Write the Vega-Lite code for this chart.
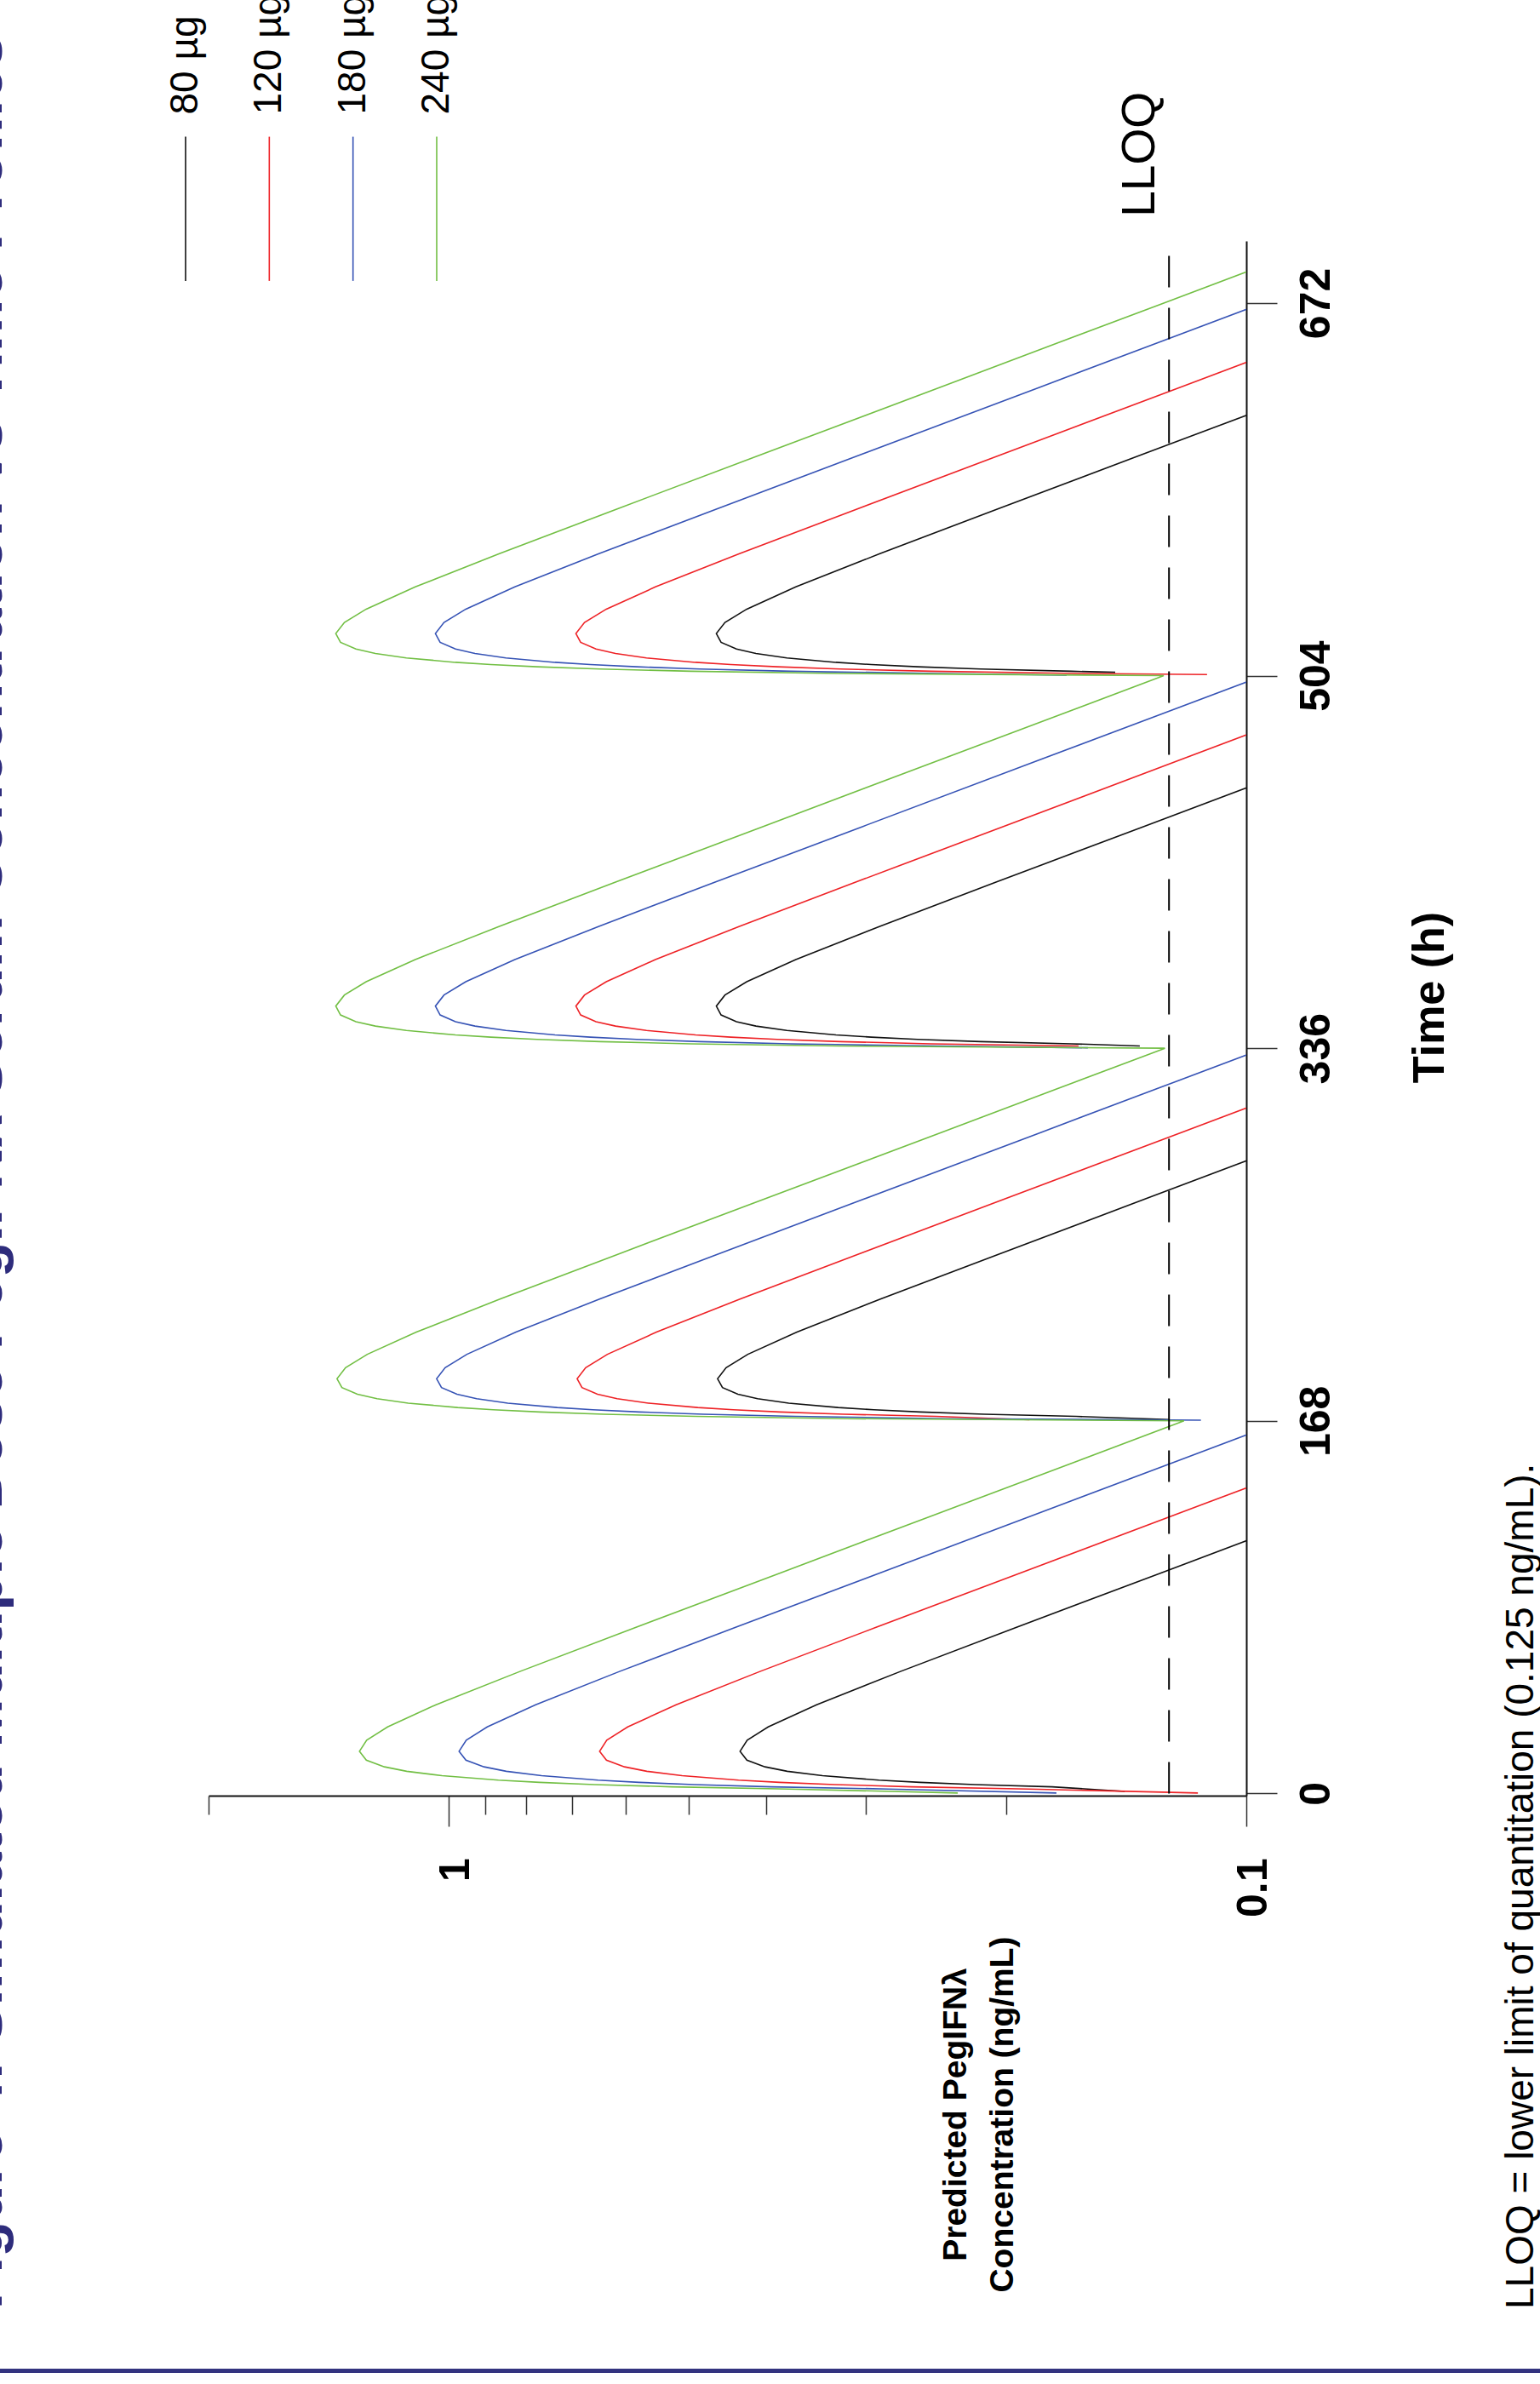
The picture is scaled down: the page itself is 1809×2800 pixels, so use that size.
{
"$schema": "https://vega.github.io/schema/vega-lite/v6.json",
"width": 1219,
"height": 1826,
"autosize": {"type": "none"},
"padding": {"left": 245, "top": 283, "right": 345, "bottom": 691},
"background": "white",
"config": {"view": {"stroke": null}, "font": "Liberation Sans, Arial, sans-serif", "axis": {"grid": false}},
"datasets": {
"legend": [{"d": "80 µg"}, {"d": "120 µg"}, {"d": "180 µg"}, {"d": "240 µg"}],
"curves": [
{"d":"80 µg","s":"k1","t":0.9,"c":0.142},{"d":"80 µg","s":"k1","t":3,"c":0.1752},{"d":"80 µg","s":"k1","t":4,"c":0.2188},{"d":"80 µg","s":"k1","t":5,"c":0.2565},{"d":"80 µg","s":"k1","t":6,"c":0.2888},{"d":"80 µg","s":"k1","t":8,"c":0.3399},{"d":"80 µg","s":"k1","t":10,"c":0.3763},{"d":"80 µg","s":"k1","t":12,"c":0.4013},{"d":"80 µg","s":"k1","t":15,"c":0.4228},{"d":"80 µg","s":"k1","t":19,"c":0.4312},{"d":"80 µg","s":"k1","t":24,"c":0.4224},{"d":"80 µg","s":"k1","t":30,"c":0.3976},{"d":"80 µg","s":"k1","t":40,"c":0.3457},{"d":"80 µg","s":"k1","t":55,"c":0.2714},{"d":"80 µg","s":"k1","t":75,"c":0.1938},{"d":"80 µg","s":"k1","t":100,"c":0.1267},{"d":"80 µg","s":"k1","t":130,"c":0.0761},
{"d":"80 µg","s":"k2","t":168.6,"c":0.125},{"d":"80 µg","s":"k2","t":170,"c":0.1634},{"d":"80 µg","s":"k2","t":171,"c":0.2131},{"d":"80 µg","s":"k2","t":172,"c":0.2561},{"d":"80 µg","s":"k2","t":173,"c":0.2931},{"d":"80 µg","s":"k2","t":174,"c":0.3248},{"d":"80 µg","s":"k2","t":176,"c":0.3747},{"d":"80 µg","s":"k2","t":178,"c":0.41},{"d":"80 µg","s":"k2","t":180,"c":0.4339},{"d":"80 µg","s":"k2","t":183,"c":0.4537},{"d":"80 µg","s":"k2","t":187,"c":0.4601},{"d":"80 µg","s":"k2","t":192,"c":0.4489},{"d":"80 µg","s":"k2","t":198,"c":0.4216},{"d":"80 µg","s":"k2","t":208,"c":0.3659},{"d":"80 µg","s":"k2","t":223,"c":0.2871},{"d":"80 µg","s":"k2","t":243,"c":0.2049},{"d":"80 µg","s":"k2","t":268,"c":0.134},{"d":"80 µg","s":"k2","t":298,"c":0.0805},
{"d":"80 µg","s":"k3","t":337,"c":0.136},{"d":"80 µg","s":"k3","t":338,"c":0.1656},{"d":"80 µg","s":"k3","t":339,"c":0.2153},{"d":"80 µg","s":"k3","t":340,"c":0.2582},{"d":"80 µg","s":"k3","t":341,"c":0.2952},{"d":"80 µg","s":"k3","t":342,"c":0.3269},{"d":"80 µg","s":"k3","t":344,"c":0.3767},{"d":"80 µg","s":"k3","t":346,"c":0.4119},{"d":"80 µg","s":"k3","t":348,"c":0.4357},{"d":"80 µg","s":"k3","t":351,"c":0.4555},{"d":"80 µg","s":"k3","t":355,"c":0.4618},{"d":"80 µg","s":"k3","t":360,"c":0.4504},{"d":"80 µg","s":"k3","t":366,"c":0.4229},{"d":"80 µg","s":"k3","t":376,"c":0.3671},{"d":"80 µg","s":"k3","t":391,"c":0.288},{"d":"80 µg","s":"k3","t":411,"c":0.2056},{"d":"80 µg","s":"k3","t":436,"c":0.1344},{"d":"80 µg","s":"k3","t":466,"c":0.0807},
{"d":"80 µg","s":"k4","t":505.5,"c":0.146},{"d":"80 µg","s":"k4","t":506,"c":0.1656},{"d":"80 µg","s":"k4","t":507,"c":0.2153},{"d":"80 µg","s":"k4","t":508,"c":0.2582},{"d":"80 µg","s":"k4","t":509,"c":0.2952},{"d":"80 µg","s":"k4","t":510,"c":0.3269},{"d":"80 µg","s":"k4","t":512,"c":0.3767},{"d":"80 µg","s":"k4","t":514,"c":0.4119},{"d":"80 µg","s":"k4","t":516,"c":0.4357},{"d":"80 µg","s":"k4","t":519,"c":0.4555},{"d":"80 µg","s":"k4","t":523,"c":0.4618},{"d":"80 µg","s":"k4","t":528,"c":0.4504},{"d":"80 µg","s":"k4","t":534,"c":0.4229},{"d":"80 µg","s":"k4","t":544,"c":0.3671},{"d":"80 µg","s":"k4","t":559,"c":0.288},{"d":"80 µg","s":"k4","t":579,"c":0.2056},{"d":"80 µg","s":"k4","t":604,"c":0.1344},{"d":"80 µg","s":"k4","t":634,"c":0.0807},
{"d":"120 µg","s":"r1","t":0.2,"c":0.115},{"d":"120 µg","s":"r1","t":2,"c":0.1872},{"d":"120 µg","s":"r1","t":3,"c":0.2628},{"d":"120 µg","s":"r1","t":4,"c":0.3282},{"d":"120 µg","s":"r1","t":5,"c":0.3847},{"d":"120 µg","s":"r1","t":6,"c":0.4331},{"d":"120 µg","s":"r1","t":8,"c":0.5098},{"d":"120 µg","s":"r1","t":10,"c":0.5644},{"d":"120 µg","s":"r1","t":12,"c":0.602},{"d":"120 µg","s":"r1","t":15,"c":0.6342},{"d":"120 µg","s":"r1","t":19,"c":0.6468},{"d":"120 µg","s":"r1","t":24,"c":0.6336},{"d":"120 µg","s":"r1","t":30,"c":0.5964},{"d":"120 µg","s":"r1","t":40,"c":0.5186},{"d":"120 µg","s":"r1","t":55,"c":0.4071},{"d":"120 µg","s":"r1","t":75,"c":0.2907},{"d":"120 µg","s":"r1","t":100,"c":0.1901},{"d":"120 µg","s":"r1","t":130,"c":0.1141},{"d":"120 µg","s":"r1","t":150,"c":0.0812},
{"d":"120 µg","s":"r2","t":168.5,"c":0.187},{"d":"120 µg","s":"r2","t":170,"c":0.245},{"d":"120 µg","s":"r2","t":171,"c":0.3197},{"d":"120 µg","s":"r2","t":172,"c":0.3841},{"d":"120 µg","s":"r2","t":173,"c":0.4396},{"d":"120 µg","s":"r2","t":174,"c":0.4872},{"d":"120 µg","s":"r2","t":176,"c":0.562},{"d":"120 µg","s":"r2","t":178,"c":0.6149},{"d":"120 µg","s":"r2","t":180,"c":0.6508},{"d":"120 µg","s":"r2","t":183,"c":0.6806},{"d":"120 µg","s":"r2","t":187,"c":0.6901},{"d":"120 µg","s":"r2","t":192,"c":0.6733},{"d":"120 µg","s":"r2","t":198,"c":0.6323},{"d":"120 µg","s":"r2","t":208,"c":0.5489},{"d":"120 µg","s":"r2","t":223,"c":0.4306},{"d":"120 µg","s":"r2","t":243,"c":0.3074},{"d":"120 µg","s":"r2","t":268,"c":0.201},{"d":"120 µg","s":"r2","t":298,"c":0.1207},{"d":"120 µg","s":"r2","t":318,"c":0.0859},
{"d":"120 µg","s":"r3","t":337,"c":0.1623},{"d":"120 µg","s":"r3","t":338,"c":0.2484},{"d":"120 µg","s":"r3","t":339,"c":0.3229},{"d":"120 µg","s":"r3","t":340,"c":0.3873},{"d":"120 µg","s":"r3","t":341,"c":0.4428},{"d":"120 µg","s":"r3","t":342,"c":0.4903},{"d":"120 µg","s":"r3","t":344,"c":0.565},{"d":"120 µg","s":"r3","t":346,"c":0.6178},{"d":"120 µg","s":"r3","t":348,"c":0.6536},{"d":"120 µg","s":"r3","t":351,"c":0.6832},{"d":"120 µg","s":"r3","t":355,"c":0.6926},{"d":"120 µg","s":"r3","t":360,"c":0.6756},{"d":"120 µg","s":"r3","t":366,"c":0.6344},{"d":"120 µg","s":"r3","t":376,"c":0.5506},{"d":"120 µg","s":"r3","t":391,"c":0.4319},{"d":"120 µg","s":"r3","t":411,"c":0.3083},{"d":"120 µg","s":"r3","t":436,"c":0.2016},{"d":"120 µg","s":"r3","t":466,"c":0.1211},{"d":"120 µg","s":"r3","t":486,"c":0.0862},
{"d":"120 µg","s":"r4","t":504.5,"c":0.112},{"d":"120 µg","s":"r4","t":505,"c":0.1623},{"d":"120 µg","s":"r4","t":506,"c":0.2484},{"d":"120 µg","s":"r4","t":507,"c":0.3229},{"d":"120 µg","s":"r4","t":508,"c":0.3873},{"d":"120 µg","s":"r4","t":509,"c":0.4428},{"d":"120 µg","s":"r4","t":510,"c":0.4903},{"d":"120 µg","s":"r4","t":512,"c":0.565},{"d":"120 µg","s":"r4","t":514,"c":0.6178},{"d":"120 µg","s":"r4","t":516,"c":0.6536},{"d":"120 µg","s":"r4","t":519,"c":0.6832},{"d":"120 µg","s":"r4","t":523,"c":0.6926},{"d":"120 µg","s":"r4","t":528,"c":0.6756},{"d":"120 µg","s":"r4","t":534,"c":0.6344},{"d":"120 µg","s":"r4","t":544,"c":0.5506},{"d":"120 µg","s":"r4","t":559,"c":0.4319},{"d":"120 µg","s":"r4","t":579,"c":0.3083},{"d":"120 µg","s":"r4","t":604,"c":0.2016},{"d":"120 µg","s":"r4","t":634,"c":0.1211},{"d":"120 µg","s":"r4","t":654,"c":0.0862},
{"d":"180 µg","s":"b1","t":0.2,"c":0.173},{"d":"180 µg","s":"b1","t":2,"c":0.2809},{"d":"180 µg","s":"b1","t":3,"c":0.3943},{"d":"180 µg","s":"b1","t":4,"c":0.4924},{"d":"180 µg","s":"b1","t":5,"c":0.5771},{"d":"180 µg","s":"b1","t":6,"c":0.6498},{"d":"180 µg","s":"b1","t":8,"c":0.7648},{"d":"180 µg","s":"b1","t":10,"c":0.8468},{"d":"180 µg","s":"b1","t":12,"c":0.9031},{"d":"180 µg","s":"b1","t":15,"c":0.9515},{"d":"180 µg","s":"b1","t":19,"c":0.9704},{"d":"180 µg","s":"b1","t":24,"c":0.9505},{"d":"180 µg","s":"b1","t":30,"c":0.8947},{"d":"180 µg","s":"b1","t":40,"c":0.778},{"d":"180 µg","s":"b1","t":55,"c":0.6107},{"d":"180 µg","s":"b1","t":75,"c":0.4361},{"d":"180 µg","s":"b1","t":100,"c":0.2852},{"d":"180 µg","s":"b1","t":130,"c":0.1712},{"d":"180 µg","s":"b1","t":150,"c":0.1219},{"d":"180 µg","s":"b1","t":168,"c":0.0898},
{"d":"180 µg","s":"b2","t":168.3,"c":0.114},{"d":"180 µg","s":"b2","t":169,"c":0.2384},{"d":"180 µg","s":"b2","t":170,"c":0.3676},{"d":"180 µg","s":"b2","t":171,"c":0.4796},{"d":"180 µg","s":"b2","t":172,"c":0.5763},{"d":"180 µg","s":"b2","t":173,"c":0.6596},{"d":"180 µg","s":"b2","t":174,"c":0.7309},{"d":"180 µg","s":"b2","t":176,"c":0.8432},{"d":"180 µg","s":"b2","t":178,"c":0.9225},{"d":"180 µg","s":"b2","t":180,"c":0.9763},{"d":"180 µg","s":"b2","t":183,"c":1.021},{"d":"180 µg","s":"b2","t":187,"c":1.0354},{"d":"180 µg","s":"b2","t":192,"c":1.0102},{"d":"180 µg","s":"b2","t":198,"c":0.9486},{"d":"180 µg","s":"b2","t":208,"c":0.8235},{"d":"180 µg","s":"b2","t":223,"c":0.6459},{"d":"180 µg","s":"b2","t":243,"c":0.4612},{"d":"180 µg","s":"b2","t":268,"c":0.3016},{"d":"180 µg","s":"b2","t":298,"c":0.1811},{"d":"180 µg","s":"b2","t":318,"c":0.1289},{"d":"180 µg","s":"b2","t":336,"c":0.0949},
{"d":"180 µg","s":"b3","t":336.2,"c":0.158},{"d":"180 µg","s":"b3","t":337,"c":0.2435},{"d":"180 µg","s":"b3","t":338,"c":0.3726},{"d":"180 µg","s":"b3","t":339,"c":0.4845},{"d":"180 µg","s":"b3","t":340,"c":0.5811},{"d":"180 µg","s":"b3","t":341,"c":0.6643},{"d":"180 µg","s":"b3","t":342,"c":0.7355},{"d":"180 µg","s":"b3","t":344,"c":0.8477},{"d":"180 µg","s":"b3","t":346,"c":0.9269},{"d":"180 µg","s":"b3","t":348,"c":0.9805},{"d":"180 µg","s":"b3","t":351,"c":1.025},{"d":"180 µg","s":"b3","t":355,"c":1.0391},{"d":"180 µg","s":"b3","t":360,"c":1.0136},{"d":"180 µg","s":"b3","t":366,"c":0.9517},{"d":"180 µg","s":"b3","t":376,"c":0.8261},{"d":"180 µg","s":"b3","t":391,"c":0.648},{"d":"180 µg","s":"b3","t":411,"c":0.4626},{"d":"180 µg","s":"b3","t":436,"c":0.3025},{"d":"180 µg","s":"b3","t":466,"c":0.1817},{"d":"180 µg","s":"b3","t":486,"c":0.1293},{"d":"180 µg","s":"b3","t":504,"c":0.0952},
{"d":"180 µg","s":"b4","t":504.2,"c":0.168},{"d":"180 µg","s":"b4","t":505,"c":0.2435},{"d":"180 µg","s":"b4","t":506,"c":0.3726},{"d":"180 µg","s":"b4","t":507,"c":0.4845},{"d":"180 µg","s":"b4","t":508,"c":0.5811},{"d":"180 µg","s":"b4","t":509,"c":0.6643},{"d":"180 µg","s":"b4","t":510,"c":0.7355},{"d":"180 µg","s":"b4","t":512,"c":0.8477},{"d":"180 µg","s":"b4","t":514,"c":0.9269},{"d":"180 µg","s":"b4","t":516,"c":0.9805},{"d":"180 µg","s":"b4","t":519,"c":1.025},{"d":"180 µg","s":"b4","t":523,"c":1.0391},{"d":"180 µg","s":"b4","t":528,"c":1.0136},{"d":"180 µg","s":"b4","t":534,"c":0.9517},{"d":"180 µg","s":"b4","t":544,"c":0.8261},{"d":"180 µg","s":"b4","t":559,"c":0.648},{"d":"180 µg","s":"b4","t":579,"c":0.4626},{"d":"180 µg","s":"b4","t":604,"c":0.3025},{"d":"180 µg","s":"b4","t":634,"c":0.1817},{"d":"180 µg","s":"b4","t":654,"c":0.1293},{"d":"180 µg","s":"b4","t":672,"c":0.0952},
{"d":"240 µg","s":"g","t":0.2,"c":0.23},{"d":"240 µg","s":"g","t":2,"c":0.3744},{"d":"240 µg","s":"g","t":3,"c":0.5256},{"d":"240 µg","s":"g","t":4,"c":0.6565},{"d":"240 µg","s":"g","t":5,"c":0.7693},{"d":"240 µg","s":"g","t":6,"c":0.8663},{"d":"240 µg","s":"g","t":8,"c":1.0196},{"d":"240 µg","s":"g","t":10,"c":1.1289},{"d":"240 µg","s":"g","t":12,"c":1.2039},{"d":"240 µg","s":"g","t":15,"c":1.2684},{"d":"240 µg","s":"g","t":19,"c":1.2937},{"d":"240 µg","s":"g","t":24,"c":1.2671},{"d":"240 µg","s":"g","t":30,"c":1.1928},{"d":"240 µg","s":"g","t":40,"c":1.0372},{"d":"240 µg","s":"g","t":55,"c":0.8141},{"d":"240 µg","s":"g","t":75,"c":0.5813},{"d":"240 µg","s":"g","t":100,"c":0.3802},{"d":"240 µg","s":"g","t":130,"c":0.2283},{"d":"240 µg","s":"g","t":150,"c":0.1625},{"d":"240 µg","s":"g","t":168,"c":0.1197},
{"d":"240 µg","s":"g","t":169,"c":0.3179},{"d":"240 µg","s":"g","t":170,"c":0.4901},{"d":"240 µg","s":"g","t":171,"c":0.6393},{"d":"240 µg","s":"g","t":172,"c":0.7682},{"d":"240 µg","s":"g","t":173,"c":0.8792},{"d":"240 µg","s":"g","t":174,"c":0.9743},{"d":"240 µg","s":"g","t":176,"c":1.124},{"d":"240 µg","s":"g","t":178,"c":1.2298},{"d":"240 µg","s":"g","t":180,"c":1.3015},{"d":"240 µg","s":"g","t":183,"c":1.3611},{"d":"240 µg","s":"g","t":187,"c":1.3803},{"d":"240 µg","s":"g","t":192,"c":1.3467},{"d":"240 µg","s":"g","t":198,"c":1.2646},{"d":"240 µg","s":"g","t":208,"c":1.0978},{"d":"240 µg","s":"g","t":223,"c":0.8611},{"d":"240 µg","s":"g","t":243,"c":0.6148},{"d":"240 µg","s":"g","t":268,"c":0.402},{"d":"240 µg","s":"g","t":298,"c":0.2414},{"d":"240 µg","s":"g","t":318,"c":0.1718},{"d":"240 µg","s":"g","t":336,"c":0.1265},
{"d":"240 µg","s":"g","t":337,"c":0.3246},{"d":"240 µg","s":"g","t":338,"c":0.4967},{"d":"240 µg","s":"g","t":339,"c":0.6458},{"d":"240 µg","s":"g","t":340,"c":0.7747},{"d":"240 µg","s":"g","t":341,"c":0.8855},{"d":"240 µg","s":"g","t":342,"c":0.9805},{"d":"240 µg","s":"g","t":344,"c":1.13},{"d":"240 µg","s":"g","t":346,"c":1.2356},{"d":"240 µg","s":"g","t":348,"c":1.3071},{"d":"240 µg","s":"g","t":351,"c":1.3665},{"d":"240 µg","s":"g","t":355,"c":1.3853},{"d":"240 µg","s":"g","t":360,"c":1.3512},{"d":"240 µg","s":"g","t":366,"c":1.2688},{"d":"240 µg","s":"g","t":376,"c":1.1012},{"d":"240 µg","s":"g","t":391,"c":0.8638},{"d":"240 µg","s":"g","t":411,"c":0.6167},{"d":"240 µg","s":"g","t":436,"c":0.4033},{"d":"240 µg","s":"g","t":466,"c":0.2422},{"d":"240 µg","s":"g","t":486,"c":0.1724},{"d":"240 µg","s":"g","t":504,"c":0.1269},
{"d":"240 µg","s":"g","t":505,"c":0.3246},{"d":"240 µg","s":"g","t":506,"c":0.4967},{"d":"240 µg","s":"g","t":507,"c":0.6458},{"d":"240 µg","s":"g","t":508,"c":0.7747},{"d":"240 µg","s":"g","t":509,"c":0.8855},{"d":"240 µg","s":"g","t":510,"c":0.9805},{"d":"240 µg","s":"g","t":512,"c":1.13},{"d":"240 µg","s":"g","t":514,"c":1.2356},{"d":"240 µg","s":"g","t":516,"c":1.3071},{"d":"240 µg","s":"g","t":519,"c":1.3665},{"d":"240 µg","s":"g","t":523,"c":1.3853},{"d":"240 µg","s":"g","t":528,"c":1.3512},{"d":"240 µg","s":"g","t":534,"c":1.2688},{"d":"240 µg","s":"g","t":544,"c":1.1012},{"d":"240 µg","s":"g","t":559,"c":0.8638},{"d":"240 µg","s":"g","t":579,"c":0.6167},{"d":"240 µg","s":"g","t":604,"c":0.4033},{"d":"240 µg","s":"g","t":634,"c":0.2422},{"d":"240 µg","s":"g","t":654,"c":0.1724},{"d":"240 µg","s":"g","t":672,"c":0.1269},{"d":"240 µg","s":"g","t":700,"c":0.0789}
]
},
"layer": [
{
"layer": [
{
"data": {"name": "curves"},
"mark": {"type": "line", "clip": true, "strokeWidth": 1.6},
"encoding": {
"x": {"field": "c", "type": "quantitative",
"scale": {"type": "log", "domain": [0.1, 2], "reverse": true, "nice": false},
"axis": {"orient": "bottom", "values": [0.1, 1], "labelExpr": "datum.value >= 1 ? '1' : '0.1'", "tickSize": 36, "tickColor": "#333333", "tickWidth": 1.5, "domainColor": "#111111", "domainWidth": 2, "labelAngle": 270, "labelAlign": "right", "labelBaseline": "middle", "labelPadding": 37, "labelOffset": 8, "labelFontSize": 50, "labelFontWeight": "bold", "labelColor": "black", "labelFlush": false, "labelOverlap": false, "labelBound": false, "grid": false,
"title": ["Predicted PegIFNλ", "Concentration (ng/mL)"], "titleAngle": 270, "titleX": 877, "titleY": 374, "titleAlign": "center", "titleBaseline": "middle", "titleFontSize": 39, "titleFontWeight": "bold", "titleColor": "black", "titleLineHeight": 55}},
"y": {"field": "t", "type": "quantitative",
"scale": {"domain": [-1, 700], "nice": false, "zero": false},
"axis": {"orient": "right", "values": [0, 168, 336, 504, 672], "format": "d", "tickSize": 36, "tickColor": "#333333", "tickWidth": 1.5, "domainColor": "#111111", "domainWidth": 2, "labelAngle": 270, "labelAlign": "center", "labelBaseline": "top", "labelPadding": 21, "labelFontSize": 50, "labelFontWeight": "bold", "labelColor": "black", "labelFlush": false, "labelOverlap": false, "labelBound": false, "grid": false,
"title": "Time (h)", "titleAngle": 270, "titleX": 215, "titleY": 888, "titleAlign": "center", "titleBaseline": "middle", "titleFontSize": 52, "titleFontWeight": "bold", "titleColor": "black"}},
"color": {"field": "d", "type": "nominal", "scale": {"domain": ["80 µg", "120 µg", "180 µg", "240 µg"], "range": ["#111111", "#EE2226", "#3653B5", "#72BF44"]}, "legend": null},
"detail": {"field": "s"},
"order": {"field": "t", "type": "quantitative"}
}
},
{
"data": {"values": [{}]},
"mark": {"type": "rule", "strokeDash": [37, 24], "strokeWidth": 2, "color": "black"},
"encoding": {
"x": {"datum": 0.125, "type": "quantitative", "axis": {"orient": "bottom", "values": [0.2, 0.3, 0.4, 0.5, 0.6, 0.7, 0.8, 0.9, 2], "tickSize": 22, "tickColor": "#333333", "tickWidth": 1.5, "labels": false, "domain": false, "title": null, "grid": false}},
"y": {"datum": 0, "type": "quantitative"},
"y2": {"datum": 700}
}
},
{
"data": {"values": [{}]},
"mark": {"type": "text", "text": "LLOQ", "angle": 270, "align": "center", "baseline": "alphabetic", "dy": -17, "fontSize": 55, "color": "black"},
"encoding": {
"x": {"datum": 0.125, "type": "quantitative", "axis": null},
"y": {"datum": 739, "type": "quantitative"}
}
},
{
"data": {"values": [{}]},
"mark": {"type": "text", "text": "LLOQ = lower limit of quantitation (0.125 ng/mL).", "angle": 270, "align": "left", "baseline": "alphabetic", "fontSize": 46, "color": "black"},
"encoding": {
"x": {"datum": 0.04368, "type": "quantitative", "axis": null},
"y": {"datum": -232.5, "type": "quantitative"}
}
},
{
"data": {"values": [{}]},
"mark": {"type": "text", "text": "Figure 4: Simulated Multiple Dose PegIFNλ Serum Concentration vs Time Profiles", "angle": 270, "align": "left", "baseline": "alphabetic", "fontSize": 69, "fontWeight": "bold", "color": "#2E2C7C"},
"encoding": {
"x": {"datum": 3.632, "type": "quantitative", "axis": null},
"y": {"datum": -232.5, "type": "quantitative"}
}
},
{
"data": {"values": [{}]},
"mark": {"type": "rule", "strokeWidth": 5, "color": "#33337F"},
"encoding": {
"x": {"datum": 10, "type": "quantitative", "axis": null},
"x2": {"datum": 0.01},
"y": {"datum": -260.3, "type": "quantitative"}
}
}
],
"resolve": {"axis": {"x": "independent"}}
},
{
"data": {"name": "legend"},
"layer": [
{
"mark": {"type": "rule", "strokeWidth": 1.6},
"encoding": {
"x": {"field": "d", "type": "nominal", "scale": {"type": "point", "domain": ["80 µg", "120 µg", "180 µg", "240 µg"], "range": [-27, 268], "padding": 0}, "axis": null},
"y": {"datum": 682, "type": "quantitative"},
"y2": {"datum": 747},
"color": {"field": "d", "type": "nominal", "legend": null}
}
},
{
"mark": {"type": "text", "angle": 270, "align": "left", "baseline": "middle", "fontSize": 46, "color": "black"},
"encoding": {
"x": {"field": "d", "type": "nominal", "axis": null},
"y": {"datum": 757, "type": "quantitative"},
"text": {"field": "d"}
}
}
]
}
],
"resolve": {"scale": {"x": "independent"}, "axis": {"x": "independent"}}
}
